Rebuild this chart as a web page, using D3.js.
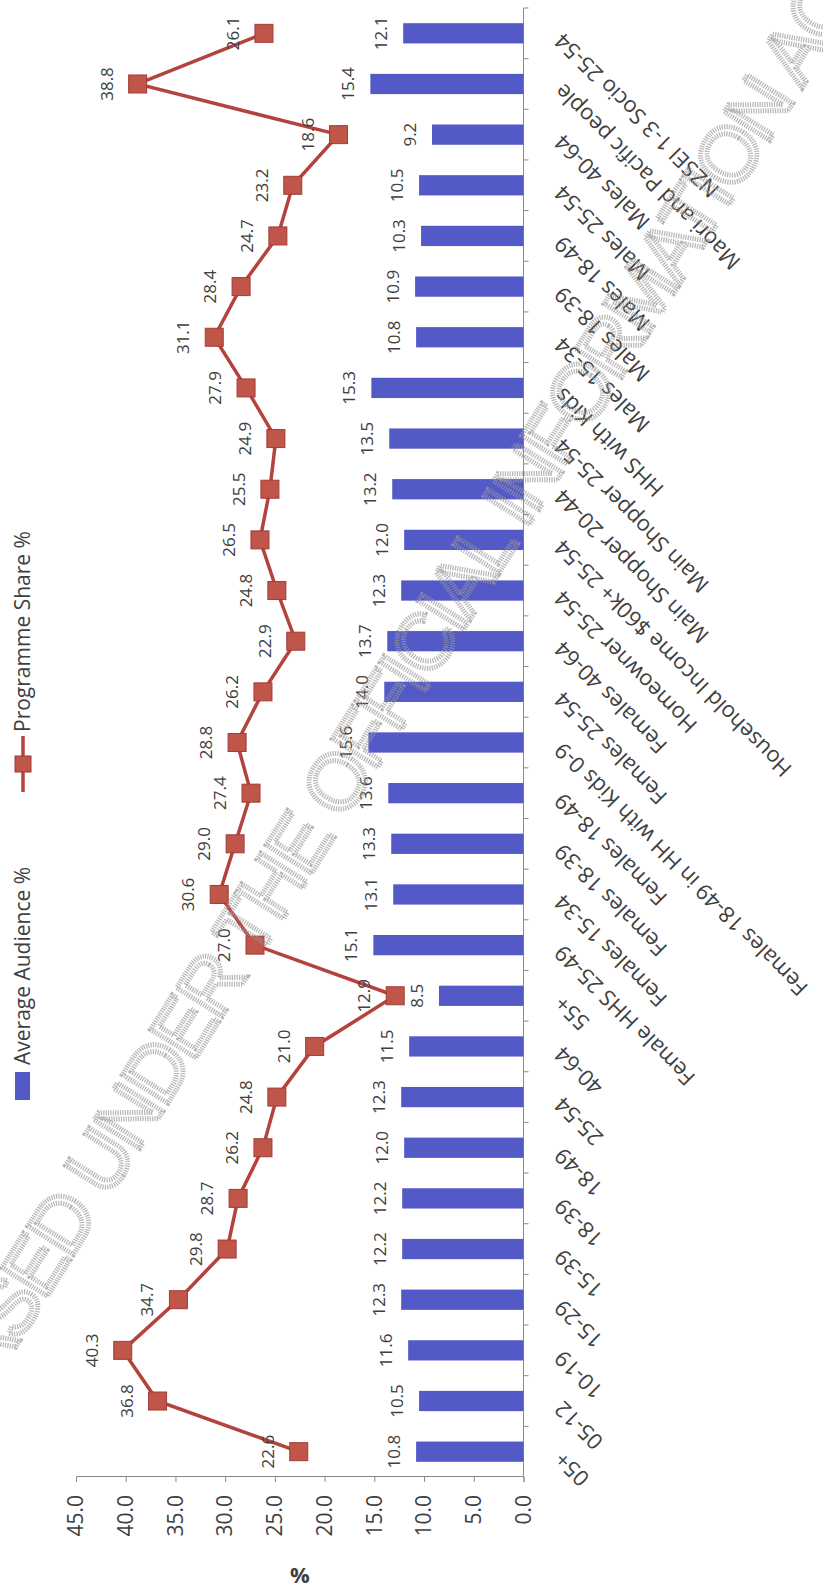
<!DOCTYPE html>
<html>
<head>
<meta charset="utf-8">
<script src="https://cdn.jsdelivr.net/npm/d3@7"></script>
<style>
  body { margin: 0; background: #fff; }
  svg { display: block; font-family: "Open Sans", sans-serif; }
</style>
</head>
<body>
<div class="chart"></div>
<script>
//Chart data, left to right as in the original (unrotated) chart
const categories = ["05+", "05-12", "10-19", "15-29", "15-39", "18-39", "18-49", "25-54", "40-64", "55+",
  "Female HHS 25-49", "Females 15-34", "Females 18-39", "Females 18-49", "Females 18-49 in HH with Kids 0-9",
  "Females 25-54", "Females 40-64", "Homeowner 25-54", "Household Income $60k+ 25-54", "Main Shopper 20-44",
  "Main Shopper 25-54", "HHS with Kids", "Males 15-34", "Males 18-39", "Males 18-49", "Males 25-54",
  "Males 40-64", "Maori and Pacific people", "NZSEI 1-3 Socio 25-54"];
const audience = [10.8, 10.5, 11.6, 12.3, 12.2, 12.2, 12.0, 12.3, 11.5, 8.5,
  15.1, 13.1, 13.3, 13.6, 15.6, 14.0, 13.7, 12.3, 12.0, 13.2,
  13.5, 15.3, 10.8, 10.9, 10.3, 10.5, 9.2, 15.4, 12.1];
const share = [22.6, 36.8, 40.3, 34.7, 29.8, 28.7, 26.2, 24.8, 21.0, 12.9,
  27.0, 30.6, 29.0, 27.4, 28.8, 26.2, 22.9, 24.8, 26.5, 25.5,
  24.9, 27.9, 31.1, 28.4, 24.7, 23.2, 18.6, 38.8, 26.1];
const valueTicks = [0, 5, 10, 15, 20, 25, 30, 35, 40, 45];
const seriesNames = ["Average Audience %", "Programme Share %"];

const pageW = 823, pageH = 1592;
const barColor = "#5459c8", lineColor = "#b5433d", markerColor = "#c05549", textColor = "#404040";

const svg = d3.select(".chart").append("svg")
  .attr("width", pageW)
  .attr("height", pageH);

//The scanned page is turned a quarter turn, so the chart is drawn upright inside a rotated group
const g = svg.append("g")
  .attr("transform", `translate(0,${pageH}) rotate(-90)`);

//Scales (in the unrotated frame: x runs along the page height)
const x = d3.scaleBand().domain(categories).range([115, 1584]).padding(0);
const y = d3.scaleLinear().domain([0, 45]).range([523.5, 76]);
const bw = x.bandwidth();

//Value axis
const yAxis = d3.axisLeft(y).tickValues(valueTicks).tickFormat(d3.format(".1f"))
  .tickSize(5).tickPadding(13);
const gy = g.append("g").attr("transform", `translate(${x.range()[0]},0)`).call(yAxis);
gy.selectAll("path, line").attr("stroke", "#8a8a8a");
gy.selectAll("text").attr("fill", textColor).style("font-size", "21px")
  .attr("font-family", "Open Sans");

//Axis title
g.append("text")
  .attr("x", 16).attr("y", y(22.5))
  .attr("text-anchor", "middle").attr("dy", "0.35em")
  .attr("transform", `rotate(-90,16,${y(22.5)})`)
  .attr("font-weight", "bold").style("font-size", "22px").attr("fill", textColor)
  .text("%");

//Category axis: line, ticks between categories and slanted labels
const gx = g.append("g").attr("transform", `translate(0,${y(0)})`);
gx.append("line").attr("x1", x.range()[0]).attr("x2", x.range()[1]).attr("stroke", "#8a8a8a");
gx.selectAll(".tick").data(categories).join("line")
  .attr("class", "tick")
  .attr("x1", (d) => x(d) + bw).attr("x2", (d) => x(d) + bw)
  .attr("y1", 0).attr("y2", 5)
  .attr("stroke", "#8a8a8a");
const labelDy = 35;
gx.selectAll(".catLabel").data(categories).join("text")
  .attr("class", "catLabel")
  .attr("text-anchor", "end")
  .attr("x", (d) => x(d) + bw / 2 - 4)
  .attr("y", labelDy)
  .attr("dy", "0.35em")
  .attr("transform", (d) => `rotate(-45,${x(d) + bw / 2 - 4},${labelDy})`)
  .style("font-size", "22px").attr("fill", textColor)
  .text((d) => d);

//Bars
g.selectAll(".bar").data(audience).join("rect")
  .attr("class", "bar")
  .attr("x", (d, i) => x(categories[i]) + bw * 0.3)
  .attr("width", bw * 0.4)
  .attr("y", (d) => y(d))
  .attr("height", (d) => y(0) - y(d))
  .attr("fill", barColor);

g.selectAll(".barLabel").data(audience).join("text")
  .attr("class", "barLabel")
  .attr("x", (d, i) => x(categories[i]) + bw / 2)
  .attr("y", (d) => y(d) - 16)
  .attr("text-anchor", "middle")
  .style("font-size", "17px").attr("fill", textColor)
  .text((d) => d3.format(".1f")(d));

//Line with square markers
const line = d3.line()
  .x((d, i) => x(categories[i]) + bw / 2)
  .y((d) => y(d));
g.append("path").datum(share)
  .attr("d", line)
  .attr("fill", "none")
  .attr("stroke", lineColor)
  .attr("stroke-width", 3.5);

const ms = 18;
g.selectAll(".marker").data(share).join("rect")
  .attr("class", "marker")
  .attr("x", (d, i) => x(categories[i]) + bw / 2 - ms / 2)
  .attr("y", (d) => y(d) - ms / 2)
  .attr("width", ms).attr("height", ms)
  .attr("fill", markerColor)
  .attr("stroke", "#a23c36").attr("stroke-width", 1);

g.selectAll(".lineLabel").data(share).join("text")
  .attr("class", "lineLabel")
  .attr("x", (d, i) => x(categories[i]) + bw / 2)
  .attr("y", (d) => y(d) - 25)
  .attr("text-anchor", "middle")
  .style("font-size", "17px").attr("fill", textColor)
  .text((d) => d3.format(".1f")(d));

//Legend
const legend = g.append("g");
legend.append("rect")
  .attr("x", 492).attr("y", 15).attr("width", 28).attr("height", 15)
  .attr("fill", barColor);
legend.append("text")
  .attr("x", 527).attr("y", 30)
  .style("font-size", "21px").attr("fill", textColor)
  .text(seriesNames[0]);
legend.append("line")
  .attr("x1", 800).attr("x2", 856).attr("y1", 23).attr("y2", 23)
  .attr("stroke", lineColor).attr("stroke-width", 3.5);
legend.append("rect")
  .attr("x", 828 - 8).attr("y", 23 - 8).attr("width", 16).attr("height", 16)
  .attr("fill", markerColor).attr("stroke", "#a23c36");
legend.append("text")
  .attr("x", 860).attr("y", 30)
  .style("font-size", "21px").attr("fill", textColor)
  .text(seriesNames[1]);

//Stamp across the scanned page
svg.append("text")
  .attr("x", 362).attr("y", 741)
  .attr("text-anchor", "middle")
  .attr("dy", "0.35em")
  .attr("transform", "rotate(-58,362,741)")
  .attr("font-family", "Liberation Sans")
  .style("font-size", "78px")
  .attr("letter-spacing", "-3")
  .attr("fill", "none")
  .attr("stroke", "#9a9a9a")
  .attr("stroke-width", 5)
  .attr("stroke-dasharray", "1.2 1.2")
  .attr("opacity", 0.7)
  .text("RELEASED UNDER THE OFFICIAL INFORMATION ACT");
</script>
</body>
</html>
